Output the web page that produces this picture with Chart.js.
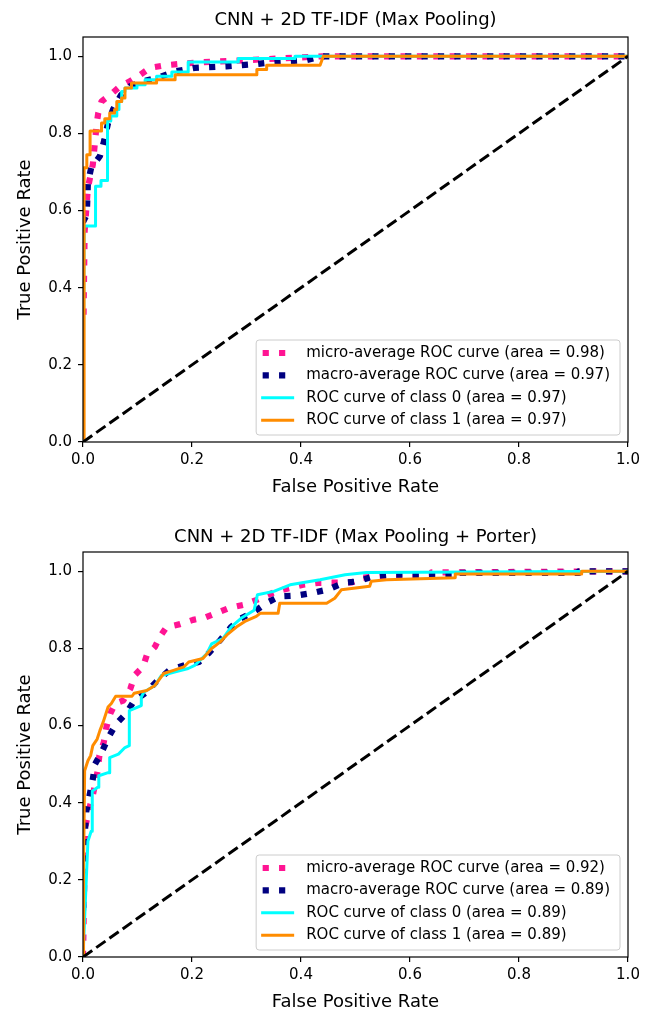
<!DOCTYPE html>
<html>
<head>
<meta charset="utf-8">
<script src="https://cdn.jsdelivr.net/npm/chart.js@4.4.0/dist/chart.umd.min.js"></script>
<style>
  html, body { margin: 0; padding: 0; background: #fff; }
  canvas { display: block; }
</style>
</head>
<body>
<canvas id="roc-top" width="651" height="515"></canvas>
<canvas id="roc-bottom" width="651" height="496"></canvas>
<script>
// --- Data (FPR on x, TPR on y) ---
const TITLES = ["CNN + 2D TF-IDF (Max Pooling)", "CNN + 2D TF-IDF (Max Pooling + Porter)"];
const X_TICKS = [0, 0.2, 0.4, 0.6, 0.8, 1.0];
const Y_TICKS = [0, 0.2, 0.4, 0.6, 0.8, 1.0];
const DIAG_X = [0, 1];
const DIAG_Y = [0, 1];

// top panel: Max Pooling
const TOP_LABELS = [
  "micro-average ROC curve (area = 0.98)",
  "macro-average ROC curve (area = 0.97)",
  "ROC curve of class 0 (area = 0.97)",
  "ROC curve of class 1 (area = 0.97)"
];
const TOP_MICRO_X = [0.001, 0.003, 0.009, 0.018, 0.025, 0.028, 0.034, 0.05, 0.068, 0.086, 0.105, 0.123, 0.153, 0.177, 0.21, 0.3, 0.44, 1.0];
const TOP_MICRO_Y = [0.33, 0.547, 0.659, 0.719, 0.823, 0.853, 0.883, 0.9, 0.922, 0.935, 0.952, 0.97, 0.977, 0.98, 0.984, 0.99, 1.0, 1.0];
const TOP_MACRO_X = [0, 0.007, 0.009, 0.015, 0.031, 0.039, 0.046, 0.055, 0.07, 0.086, 0.111, 0.144, 0.17, 0.205, 0.263, 0.32, 0.35, 0.41, 0.44, 1.0];
const TOP_MACRO_Y = [0.57, 0.59, 0.672, 0.711, 0.741, 0.782, 0.827, 0.862, 0.9, 0.922, 0.935, 0.948, 0.961, 0.97, 0.974, 0.98, 0.985, 0.99, 1.0, 1.0];
const TOP_C0_X = [0, 0.002, 0.023, 0.023, 0.033, 0.033, 0.045, 0.045, 0.051, 0.051, 0.062, 0.062, 0.066, 0.066, 0.071, 0.071, 0.077, 0.077, 0.099, 0.099, 0.114, 0.114, 0.135, 0.135, 0.163, 0.163, 0.193, 0.193, 0.285, 0.285, 0.389, 0.389, 1.0];
const TOP_C0_Y = [0, 0.56, 0.56, 0.663, 0.663, 0.678, 0.678, 0.832, 0.832, 0.845, 0.845, 0.862, 0.862, 0.883, 0.883, 0.909, 0.909, 0.918, 0.918, 0.926, 0.926, 0.939, 0.939, 0.948, 0.948, 0.959, 0.959, 0.985, 0.985, 0.994, 0.994, 1.0, 1.0];
const TOP_C1_X = [0, 0.002, 0.002, 0.007, 0.007, 0.013, 0.013, 0.034, 0.034, 0.040, 0.040, 0.049, 0.049, 0.058, 0.058, 0.062, 0.062, 0.071, 0.071, 0.077, 0.077, 0.089, 0.089, 0.135, 0.135, 0.169, 0.169, 0.319, 0.319, 0.337, 0.337, 0.435, 0.441, 1.0];
const TOP_C1_Y = [0, 0, 0.711, 0.711, 0.745, 0.745, 0.806, 0.806, 0.827, 0.827, 0.838, 0.838, 0.853, 0.853, 0.862, 0.862, 0.883, 0.883, 0.892, 0.892, 0.918, 0.918, 0.931, 0.931, 0.939, 0.939, 0.952, 0.952, 0.966, 0.966, 0.977, 0.977, 1.0, 1.0];

// bottom panel: Max Pooling + Porter
const BOT_LABELS = [
  "micro-average ROC curve (area = 0.92)",
  "macro-average ROC curve (area = 0.89)",
  "ROC curve of class 0 (area = 0.89)",
  "ROC curve of class 1 (area = 0.89)"
];
const BOT_MICRO_X = [0, 0.004, 0.01, 0.018, 0.027, 0.03, 0.038, 0.043, 0.05, 0.059, 0.074, 0.087, 0.095, 0.11, 0.117, 0.132, 0.141, 0.153, 0.178, 0.202, 0.224, 0.247, 0.268, 0.294, 0.319, 0.355, 0.38, 0.404, 0.432, 0.493, 0.511, 0.545, 0.64, 0.64, 1.0];
const BOT_MICRO_Y = [0, 0.335, 0.377, 0.419, 0.483, 0.522, 0.556, 0.596, 0.631, 0.657, 0.665, 0.696, 0.731, 0.752, 0.782, 0.804, 0.83, 0.855, 0.863, 0.874, 0.88, 0.893, 0.905, 0.913, 0.926, 0.948, 0.957, 0.965, 0.97, 0.971, 0.983, 0.987, 0.99, 0.997, 1.0];
const BOT_MACRO_X = [0, 0.004, 0.006, 0.012, 0.018, 0.022, 0.034, 0.047, 0.06, 0.079, 0.093, 0.117, 0.134, 0.158, 0.185, 0.213, 0.231, 0.252, 0.272, 0.29, 0.314, 0.337, 0.361, 0.392, 0.422, 0.45, 0.478, 0.505, 0.533, 0.563, 0.69, 0.69, 0.91, 0.91, 1.0];
const BOT_MACRO_Y = [0.12, 0.335, 0.377, 0.419, 0.461, 0.5, 0.53, 0.57, 0.603, 0.631, 0.663, 0.687, 0.713, 0.743, 0.756, 0.765, 0.788, 0.822, 0.856, 0.878, 0.895, 0.918, 0.935, 0.937, 0.944, 0.953, 0.97, 0.974, 0.987, 0.991, 0.991, 0.996, 0.996, 1.0, 1.0];
const BOT_C0_X = [0, 0.009, 0.015, 0.017, 0.017, 0.027, 0.029, 0.029, 0.046, 0.049, 0.049, 0.065, 0.077, 0.085, 0.085, 0.107, 0.107, 0.112, 0.132, 0.144, 0.168, 0.193, 0.205, 0.227, 0.236, 0.257, 0.272, 0.29, 0.314, 0.32, 0.35, 0.38, 0.435, 0.481, 0.52, 1.0];
const BOT_C0_Y = [0, 0.30, 0.326, 0.326, 0.43, 0.44, 0.44, 0.47, 0.478, 0.478, 0.517, 0.526, 0.543, 0.548, 0.639, 0.652, 0.674, 0.687, 0.704, 0.73, 0.739, 0.748, 0.756, 0.786, 0.812, 0.826, 0.856, 0.878, 0.899, 0.939, 0.948, 0.965, 0.978, 0.991, 0.997, 1.0];
const BOT_C1_X = [0, 0.001, 0.003, 0.009, 0.014, 0.018, 0.026, 0.031, 0.037, 0.046, 0.052, 0.06, 0.09, 0.094, 0.117, 0.132, 0.148, 0.166, 0.185, 0.194, 0.22, 0.236, 0.252, 0.264, 0.282, 0.297, 0.318, 0.325, 0.358, 0.361, 0.447, 0.462, 0.474, 0.526, 0.529, 0.557, 0.683, 0.683, 0.915, 0.915, 1.0];
const BOT_C1_Y = [0, 0.23, 0.483, 0.509, 0.522, 0.548, 0.565, 0.587, 0.609, 0.648, 0.657, 0.676, 0.676, 0.684, 0.691, 0.704, 0.735, 0.743, 0.752, 0.765, 0.774, 0.8, 0.817, 0.835, 0.856, 0.87, 0.883, 0.891, 0.891, 0.917, 0.917, 0.93, 0.952, 0.961, 0.974, 0.978, 0.983, 0.993, 0.993, 1.0, 1.0];

// --- styling ---
const FONT = "'DejaVu Sans', sans-serif";
Chart.defaults.font.family = FONT;
Chart.defaults.color = '#000';

// micro, macro, class 0, class 1 (matplotlib look: ':' lw 4, '-' lw 2)
const STYLES = [
    { color: '#ff1493', width: 6.2, dash: [6.2, 10.2] },
    { color: '#000080', width: 6.2, dash: [6.2, 10.2] },
    { color: '#00ffff', width: 3, dash: [] },
    { color: '#ff8c00', width: 3, dash: [] }
];

function toPoints(xs, ys) {
    return xs.map((x, i) => ({ x: x, y: ys[i] }));
}

// title centred over the axes, frame on top of the lines, legend box lower right
const frameLegendPlugin = {
    id: 'frameLegend',
    afterDatasetsDraw(chart, args, opts) {
        const ctx = chart.ctx;
        const a = chart.chartArea;
        ctx.save();
        ctx.setLineDash([]);
        ctx.strokeStyle = '#000';
        ctx.lineWidth = 1.2;
        ctx.strokeRect(a.left, a.top, a.right - a.left, a.bottom - a.top);

        ctx.fillStyle = '#000';
        ctx.font = '18px ' + FONT;
        ctx.textAlign = 'center';
        ctx.textBaseline = 'middle';
        ctx.fillText(opts.title, (a.left + a.right) / 2, opts.titleY);

        const labels = opts.labels || [];
        ctx.font = '15px ' + FONT;
        const textW = Math.max(...labels.map(l => ctx.measureText(l).width));
        const boxR = a.right - 8;
        const boxB = a.bottom - 7;
        const boxT = boxB - 95;
        const textX = boxR - 10 - textW;
        const hEnd = textX - 12;
        const hStart = hEnd - 33;
        const boxL = hStart - 5;
        const r = 3;
        ctx.beginPath();
        ctx.moveTo(boxL + r, boxT);
        ctx.lineTo(boxR - r, boxT);
        ctx.arcTo(boxR, boxT, boxR, boxT + r, r);
        ctx.lineTo(boxR, boxB - r);
        ctx.arcTo(boxR, boxB, boxR - r, boxB, r);
        ctx.lineTo(boxL + r, boxB);
        ctx.arcTo(boxL, boxB, boxL, boxB - r, r);
        ctx.lineTo(boxL, boxT + r);
        ctx.arcTo(boxL, boxT, boxL + r, boxT, r);
        ctx.closePath();
        ctx.fillStyle = 'rgba(255,255,255,0.8)';
        ctx.fill();
        ctx.strokeStyle = '#cccccc';
        ctx.lineWidth = 1;
        ctx.stroke();

        labels.forEach((l, i) => {
            const y = boxT + 13 + i * 22.4;
            const st = STYLES[i];
            ctx.beginPath();
            ctx.setLineDash(st.dash);
            ctx.lineCap = 'butt';
            ctx.strokeStyle = st.color;
            ctx.lineWidth = st.width;
            ctx.moveTo(st.dash.length ? hStart + 1.5 : hStart, y);
            ctx.lineTo(hEnd, y);
            ctx.stroke();
            ctx.setLineDash([]);
            ctx.fillStyle = '#000';
            ctx.textBaseline = 'middle';
            ctx.textAlign = 'left';
            ctx.fillText(l, textX, y);
        });
        ctx.restore();
    }
};

function makeChart(id, title, titleY, curves, labels, padBottom) {
    const datasets = curves.map((c, i) => ({
        data: toPoints(c[0], c[1]),
        borderColor: STYLES[i].color,
        borderWidth: STYLES[i].width,
        borderDash: STYLES[i].dash,
        borderCapStyle: 'butt',
        borderJoinStyle: 'round',
        showLine: true,
        pointRadius: 0,
        pointHoverRadius: 0,
        tension: 0,
        clip: 0,
        order: 5 - i
    }));
    datasets.push({
        data: toPoints(DIAG_X, DIAG_Y),
        borderColor: '#000',
        borderWidth: 3,
        borderDash: [11.3, 4.9],
        borderCapStyle: 'butt',
        showLine: true,
        pointRadius: 0,
        pointHoverRadius: 0,
        clip: 0,
        order: 0
    });

    new Chart(document.getElementById(id), {
        type: 'scatter',
        data: { datasets },
        plugins: [frameLegendPlugin],
        options: {
            responsive: false,
            animation: false,
            events: [],
            layout: { padding: { top: 37, right: 23, bottom: padBottom, left: 0 } },
            plugins: {
                legend: { display: false },
                tooltip: { enabled: false },
                title: { display: false },
                frameLegend: { labels, title, titleY }
            },
            scales: {
                x: {
                    type: 'linear',
                    min: 0,
                    max: 1,
                    afterBuildTicks: s => { s.ticks = X_TICKS.map(v => ({ value: v })); },
                    afterFit: s => { s.height = 54; },
                    ticks: { callback: v => v.toFixed(1), font: { size: 15 }, padding: 4, maxRotation: 0, autoSkip: false },
                    grid: { drawOnChartArea: false, drawTicks: true, tickLength: 5, color: '#000', lineWidth: 1.2 },
                    border: { display: false },
                    title: { display: true, text: 'False Positive Rate', font: { size: 18, lineHeight: 1 }, padding: 0 }
                },
                y: {
                    type: 'linear',
                    min: 0,
                    max: 1.05,
                    afterBuildTicks: s => { s.ticks = Y_TICKS.map(v => ({ value: v })); },
                    afterFit: s => { s.width = 83; },
                    ticks: { callback: v => v.toFixed(1), font: { size: 15 }, padding: 6, autoSkip: false },
                    grid: { drawOnChartArea: false, drawTicks: true, tickLength: 5, color: '#000', lineWidth: 1.2 },
                    border: { display: false },
                    title: { display: true, text: 'True Positive Rate', font: { size: 18, lineHeight: 1 }, padding: { top: 16, bottom: 0 } }
                }
            }
        }
    });
}

makeChart('roc-top', TITLES[0], 20,
    [[TOP_MICRO_X, TOP_MICRO_Y], [TOP_MACRO_X, TOP_MACRO_Y], [TOP_C0_X, TOP_C0_Y], [TOP_C1_X, TOP_C1_Y]],
    TOP_LABELS, 19);
makeChart('roc-bottom', TITLES[1], 22,
    [[BOT_MICRO_X, BOT_MICRO_Y], [BOT_MACRO_X, BOT_MACRO_Y], [BOT_C0_X, BOT_C0_Y], [BOT_C1_X, BOT_C1_Y]],
    BOT_LABELS, 0);
</script>
</body>
</html>
